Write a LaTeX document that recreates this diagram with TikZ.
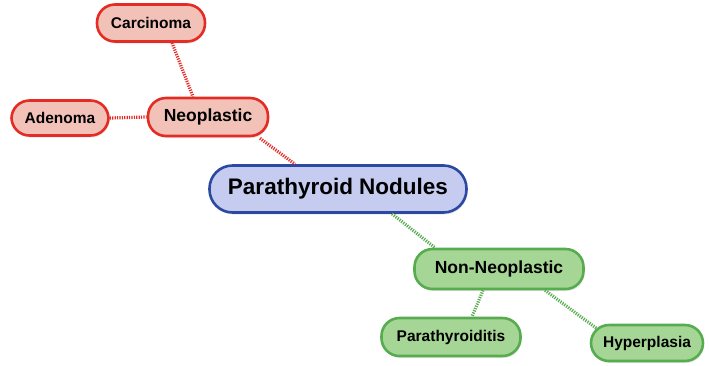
\documentclass[tikz,border=0pt]{standalone}
\usepackage{fontspec}
\setmainfont{Liberation Sans}
\usetikzlibrary{shadows}

\definecolor{redfill}{RGB}{242,194,184}
\definecolor{redline}{RGB}{228,44,36}
\definecolor{bluefill}{RGB}{198,204,240}
\definecolor{blueline}{RGB}{44,72,160}
\definecolor{greenfill}{RGB}{166,214,150}
\definecolor{greenline}{RGB}{88,172,80}

\begin{document}
\begin{tikzpicture}[x=1pt,y=-1pt,
    pill/.style={rounded corners=18pt,line width=2.6pt,inner sep=0pt,
      font=\bfseries,
      drop shadow={opacity=0.18,shadow xshift=1pt,shadow yshift=-2pt}},
    neo/.style={pill,draw=redline,fill=redfill},
    nonneo/.style={pill,draw=greenline,fill=greenfill},
    small/.style={font=\bfseries\fontsize{15.5}{18}\selectfont},
    mid/.style={font=\bfseries\fontsize{17.5}{20}\selectfont},
    link/.style={line width=3.2pt,dash pattern=on 1.2pt off 1.2pt}]
      \useasboundingbox (0,0) rectangle (709,365);%

      % neoplastic branch
      \node[neo,small,minimum width=108pt,minimum height=37pt] (CA) at (151,23) {Carcinoma};%
      \node[neo,small,minimum width=97pt,minimum height=35pt] (AD) at (60,118) {Adenoma};%
      \node[neo,mid,minimum width=120pt,minimum height=38pt] (NE) at (208,117) {Neoplastic};%

      % root
      \node[pill,draw=blueline,fill=bluefill,rounded corners=23pt,
        minimum width=257pt,minimum height=47pt,
        font=\bfseries\fontsize{22.5}{26}\selectfont] (PN) at (338,189) {Parathyroid Nodules};%

      % non-neoplastic branch
      \node[nonneo,mid,minimum width=169pt,minimum height=40pt] (NN) at (499,269) {Non-Neoplastic};%
      \node[nonneo,small,minimum width=139pt,minimum height=38pt] (PT) at (451,337) {Parathyroiditis};%
      \node[nonneo,small,minimum width=112pt,minimum height=36pt] (HY) at (647,343) {Hyperplasia};%

      \draw[link,redline] ([xshift=21pt]CA.south) -- ([xshift=-15pt]NE.north);%
      \draw[link,redline] (AD.east) -- (NE.west);%
      \draw[link,redline] ([xshift=52pt,yshift=-1pt]NE.south) -- ([xshift=-43pt]PN.north);%

      \draw[link,greenline] ([xshift=54pt]PN.south) -- ([xshift=-64pt]NN.north);%
      \draw[link,greenline] ([xshift=-16pt]NN.south) -- ([xshift=21pt]PT.north);%
      \draw[link,greenline] ([xshift=46pt]NN.south) -- ([xshift=-50pt,yshift=-5pt]HY.north);%
    \end{tikzpicture}
\end{document}
